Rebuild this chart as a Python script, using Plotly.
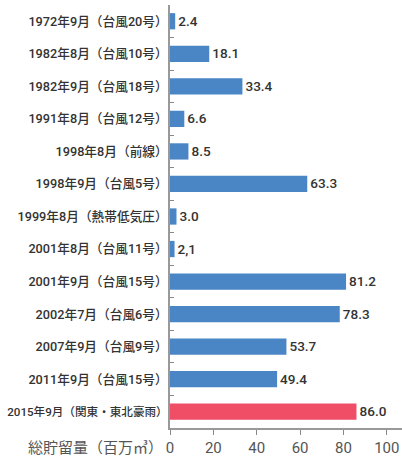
import plotly.graph_objects as go

categories = [
    "1972年9月（台風20号）",
    "1982年8月（台風10号）",
    "1982年9月（台風18号）",
    "1991年8月（台風12号）",
    "1998年8月（前線）",
    "1998年9月（台風5号）",
    "1999年8月（熱帯低気圧）",
    "2001年8月（台風11号）",
    "2001年9月（台風15号）",
    "2002年7月（台風6号）",
    "2007年9月（台風9号）",
    "2011年9月（台風15号）",
    "2015年9月（関東・東北豪雨）",
]
values = [2.4, 18.1, 33.4, 6.6, 8.5, 63.3, 3.0, 2.1, 81.2, 78.3, 53.7, 49.4, 86.0]
value_labels = ["2.4", "18.1", "33.4", "6.6", "8.5", "63.3", "3.0", "2,1",
                "81.2", "78.3", "53.7", "49.4", "86.0"]
x_ticks = [0, 20, 40, 60, 80, 100]
axis_title = "総貯留量（百万㎥）"

BLUE = "#4a86c6"
RED = "#f04d66"
colors = [RED if c.startswith("2015") else BLUE for c in categories]

ticktext = [
    f'<span style="font-size:11.6px">{c}</span>' if c.startswith("2015") else c
    for c in categories
]

FONT = "Roboto, Noto Sans CJK JP"

fig = go.Figure(
    go.Bar(
        x=values,
        y=categories,
        orientation="h",
        marker=dict(color=colors, line=dict(width=0)),
        text=value_labels,
        textposition="outside",
        cliponaxis=False,
        textfont=dict(family=FONT, size=15, color="#333333", weight=500),
        hoverinfo="skip",
    )
)

fig.update_layout(
    width=402,
    height=459,
    margin=dict(l=170, r=0, t=5, b=31),
    paper_bgcolor="white",
    plot_bgcolor="white",
    bargap=0.5,
    showlegend=False,
    font=dict(family=FONT, color="#333333"),
    xaxis=dict(
        range=[0, 107],
        tickvals=x_ticks,
        ticks="outside",
        ticklen=5,
        tickcolor="#888888",
        showgrid=False,
        zeroline=False,
        showline=True,
        linecolor="#999999",
        linewidth=1.5,
        tickfont=dict(family=FONT, size=15, color="#555555"),
        automargin=False,
        fixedrange=True,
    ),
    yaxis=dict(
        categoryorder="array",
        categoryarray=categories,
        autorange="reversed",
        tickvals=categories,
        ticktext=ticktext,
        ticks="inside",
        tickson="boundaries",
        ticklen=4,
        tickcolor="#888888",
        showgrid=False,
        showline=True,
        linecolor="#999999",
        linewidth=1.5,
        tickfont=dict(family=FONT, size=12.7, color="#333333", weight=500),
        ticklabelstandoff=-2,
        automargin=False,
        fixedrange=True,
    ),
)

fig.add_annotation(
    text=axis_title,
    xref="paper", yref="paper",
    x=0, y=0,
    xanchor="right", yanchor="top",
    xshift=-5, yshift=-9,
    showarrow=False,
    font=dict(family=FONT, size=15, color="#555555"),
)

fig.write_html(
    "out.html",
    config={"displayModeBar": False},
    post_script="document.body.style.margin='0';document.body.style.padding='0';",
)
